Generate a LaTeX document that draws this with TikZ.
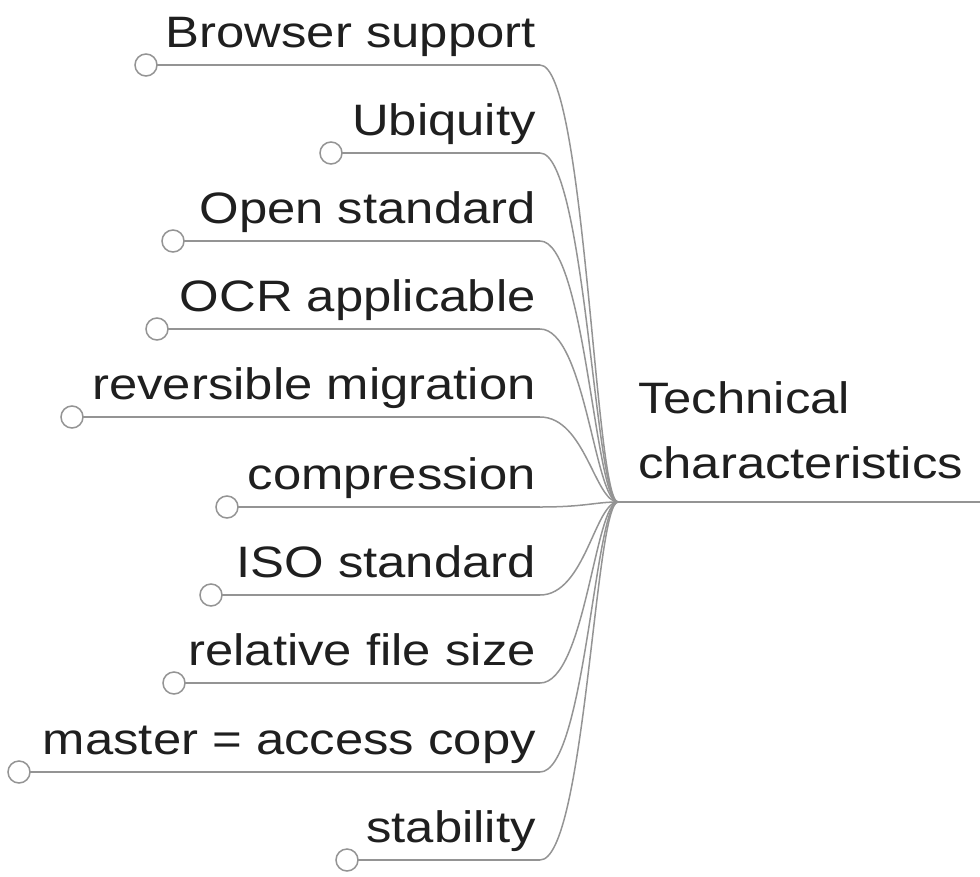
\documentclass[tikz,border=0pt]{standalone}
\usepackage{graphicx}
\usepackage{fontspec}
\setmainfont{Liberation Sans}
\newcommand{\wide}[1]{\scalebox{1.155}[1]{#1}}
\begin{document}
\begin{tikzpicture}[x=1pt,y=-1pt,
  line/.style={draw=black!42, line width=1.5pt},
  dot/.style={circle, draw=black!42, line width=1.5pt, fill=white, minimum size=22pt, inner sep=0pt},
  lbl/.style={anchor=base east, inner sep=0pt, text=black!88, font=\fontsize{44}{62}\selectfont},
  hubtext/.style={anchor=base west, inner sep=0pt, text=black!88, font=\fontsize{44}{65}\selectfont}]
\useasboundingbox (0,0) rectangle (980,876);
\coordinate (hub) at (618,502);
\coordinate (rend) at (980,502);
\draw[line] (hub) -- (rend);
\node[hubtext] (tc) at (638,413) {\wide{Technical}};
\node[hubtext] (tc2) at (638,478) {\wide{characteristics}};
\foreach \i/\cx/\yy/\t in {1/146/65/Browser support, 2/331/153/Ubiquity, 3/173/241/Open standard, 4/157/329/OCR applicable, 5/72/417/reversible migration, 6/227/507/compression, 7/211/595/ISO standard, 8/174/683/relative file size, 9/19/772/master = access copy, 10/347/860/stability}{
  \coordinate (e\i) at (540,\yy);
  \draw[line] (e\i) .. controls (585,\yy) and (595,502) .. (hub);
  \draw[line] (e\i) -- (\cx,\yy);
  \node[dot] (c\i) at (\cx,\yy) {};
  \node[lbl] (l\i) at (536,\yy-18) {\wide{\t}};
}
\end{tikzpicture}
\end{document}
